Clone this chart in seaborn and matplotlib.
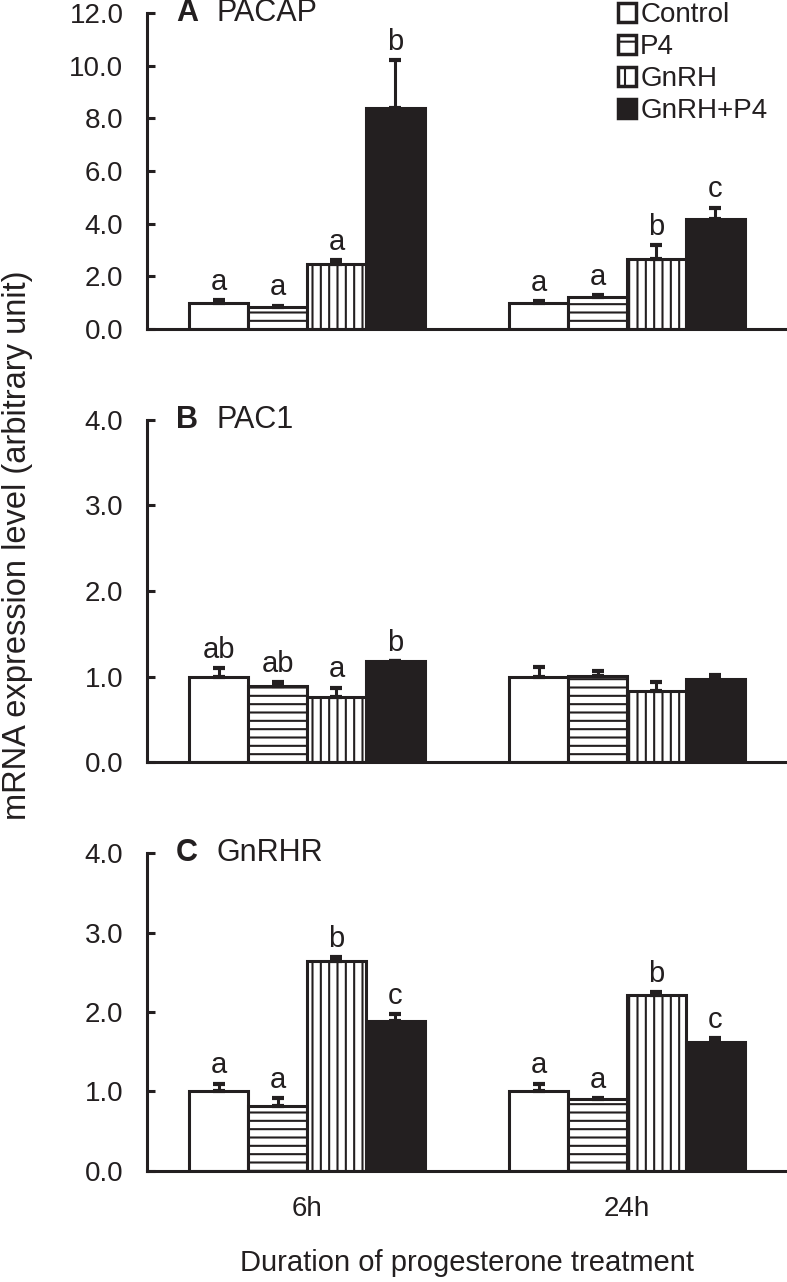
import pandas as pd
import matplotlib
matplotlib.use('Agg')
import matplotlib.pyplot as plt
from matplotlib.patches import Patch
import seaborn as sns

# data (mean and upper SE)
times = ['6h', '24h']
treatments = ['Control', 'P4', 'GnRH', 'GnRH+P4']

pacap_6h = [1.00, 0.84, 2.48, 8.40]
pacap_6h_se = [0.10, 0.05, 0.15, 1.80]
pacap_24h = [1.00, 1.22, 2.67, 4.16]
pacap_24h_se = [0.06, 0.08, 0.50, 0.45]
pacap_letters_6h = ['a', 'a', 'a', 'b']
pacap_letters_24h = ['a', 'a', 'b', 'c']

pac1_6h = [1.00, 0.89, 0.76, 1.18]
pac1_6h_se = [0.10, 0.04, 0.11, 0.00]
pac1_24h = [1.00, 1.01, 0.83, 0.97]
pac1_24h_se = [0.11, 0.05, 0.10, 0.05]
pac1_letters_6h = ['ab', 'ab', 'a', 'b']
pac1_letters_24h = ['', '', '', '']

gnrhr_6h = [1.00, 0.82, 2.64, 1.89]
gnrhr_6h_se = [0.10, 0.10, 0.05, 0.08]
gnrhr_24h = [1.00, 0.90, 2.21, 1.62]
gnrhr_24h_se = [0.10, 0.02, 0.04, 0.05]
gnrhr_letters_6h = ['a', 'a', 'b', 'c']
gnrhr_letters_24h = ['a', 'a', 'b', 'c']

ink = '#231f20'
sns.set_style('ticks')
plt.rcParams['font.family'] = ['Liberation Sans', 'DejaVu Sans']
plt.rcParams['font.size'] = 20
plt.rcParams['text.color'] = ink
plt.rcParams['hatch.linewidth'] = 1.5
plt.rcParams['hatch.color'] = ink

palette = {'Control': 'white', 'P4': 'white', 'GnRH': 'white', 'GnRH+P4': ink}
hatches = ['', '--', '||', '']


def panel(ax, v6, s6, v24, s24, l6, l24, ymax, step, letter, name):
    df = pd.DataFrame({
        'time': [t for t in times for _ in treatments],
        'treatment': treatments * 2,
        'value': v6 + v24,
        'se': s6 + s24,
        'label': l6 + l24,
    })
    sns.barplot(data=df, x='time', y='value', hue='treatment', order=times,
                hue_order=treatments, palette=palette, edgecolor=ink,
                linewidth=2.2, width=0.735, errorbar=None, legend=False,
                saturation=1, ax=ax)
    for cont, h, tr in zip(ax.containers, hatches, treatments):
        sub = df[df['treatment'] == tr].set_index('time').loc[times]
        xs = []
        for bar in cont:
            bar.set_hatch(h)
            xs.append(bar.get_x() + bar.get_width() / 2)
        ax.errorbar(xs, sub['value'], yerr=[[0] * len(xs), sub['se']],
                    fmt='none', ecolor=ink, elinewidth=2.2, capsize=4.3,
                    capthick=3, zorder=3)
        for x, v, s, lab in zip(xs, sub['value'], sub['se'], sub['label']):
            if lab:
                ax.annotate(lab, (x, v + s), xytext=(0, 3),
                            textcoords='offset points', ha='center',
                            va='bottom', fontsize=21, color=ink)
    ax.set_ylim(0, ymax)
    ax.set_xlim(-0.5, 1.5)
    ticks = [i * step for i in range(int(round(ymax / step)) + 1)]
    ax.set_yticks(ticks)
    ax.set_yticklabels([f'{t:.1f}' for t in ticks])
    ax.set_xlabel('')
    ax.set_ylabel('')
    sns.despine(ax=ax)
    for sp in ['left', 'bottom']:
        ax.spines[sp].set_linewidth(2.2)
        ax.spines[sp].set_color(ink)
    ax.tick_params(axis='y', direction='in', length=6, width=2.2,
                   pad=17, labelsize=20, colors=ink)
    ax.tick_params(axis='x', length=0, pad=18, labelsize=20, colors=ink)
    ax.text(0.045, ymax, letter, fontweight='bold', fontsize=22,
            va='center', transform=ax.get_yaxis_transform(), color=ink)
    ax.text(0.108, ymax, name, fontsize=22, va='center',
            transform=ax.get_yaxis_transform(), color=ink)
    ax.patch.set_alpha(0)


fig = plt.figure(figsize=(7.87, 12.82), dpi=100)
ax_a = fig.add_axes([0.1868, 0.7434, 0.8132, 0.2465])
ax_b = fig.add_axes([0.1868, 0.4056, 0.8132, 0.2668])
ax_c = fig.add_axes([0.1868, 0.0866, 0.8132, 0.2480])

panel(ax_a, pacap_6h, pacap_6h_se, pacap_24h, pacap_24h_se,
      pacap_letters_6h, pacap_letters_24h, 12, 2, 'A', 'PACAP')
panel(ax_b, pac1_6h, pac1_6h_se, pac1_24h, pac1_24h_se,
      pac1_letters_6h, pac1_letters_24h, 4, 1, 'B', 'PAC1')
panel(ax_c, gnrhr_6h, gnrhr_6h_se, gnrhr_24h, gnrhr_24h_se,
      gnrhr_letters_6h, gnrhr_letters_24h, 4, 1, 'C', 'GnRHR')

ax_a.set_xticklabels([])
ax_b.set_xticklabels([])

legend_hatches = ['', '-', '|', '']
handles = [Patch(facecolor=palette[t], edgecolor=ink, hatch=h, linewidth=2.5, label=t)
           for t, h in zip(treatments, legend_hatches)]
fig.legend(handles=handles, loc='upper left', bbox_to_anchor=(618 / 787, 1 - 2 / 1282),
           frameon=False, fontsize=20, handlelength=0.65, handleheight=0.65,
           handletextpad=0.15, labelspacing=0.22, borderpad=0, borderaxespad=0)

fig.text(18 / 787, 1 - 545 / 1282, 'mRNA expression level (arbitrary unit)',
         rotation=90, ha='center', va='center', fontsize=23.5, color=ink)
fig.text(0.1868 + 0.8132 / 2, 1 - 1263 / 1282, 'Duration of progesterone treatment',
         ha='center', va='center', fontsize=21, color=ink)

fig.savefig('out.png', dpi=100)
